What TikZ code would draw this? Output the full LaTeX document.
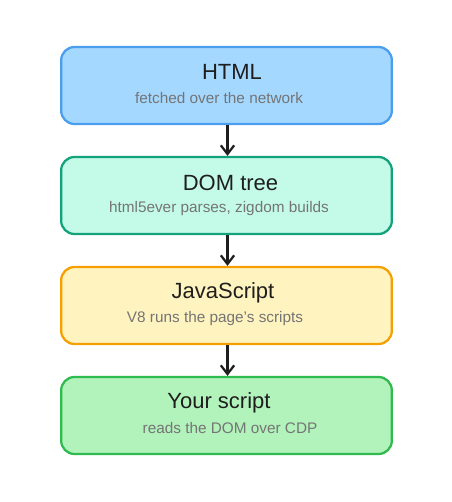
\documentclass[tikz,border=0pt]{standalone}
\usepackage{fontspec}
\setmainfont{Liberation Sans}
\usetikzlibrary{arrows.meta}

\definecolor{htmlfill}{HTML}{A5D8FF}
\definecolor{htmlline}{HTML}{4A9EED}
\definecolor{domfill}{HTML}{C3FAE8}
\definecolor{domline}{HTML}{12A37A}
\definecolor{jsfill}{HTML}{FFF3BF}
\definecolor{jsline}{HTML}{F59F00}
\definecolor{yourfill}{HTML}{B2F2BB}
\definecolor{yourline}{HTML}{2FBB4F}
\definecolor{inktext}{HTML}{1E1E1E}
\definecolor{subtext}{HTML}{757575}

\begin{document}
\begin{tikzpicture}[
x=0.75pt, y=-0.75pt,
stage/.style={draw, line width=1.7pt, rounded corners=10pt, minimum width=248pt, minimum height=57.75pt, inner sep=0pt},
title/.style={text=inktext, font=\fontsize{16.5}{18}\selectfont, inner sep=0pt},
subtitle/.style={text=subtext, font=\fontsize{11.5}{13}\selectfont, inner sep=0pt},
flow/.style={draw=inktext, line width=1.7pt, -{Straight Barb[length=6.5pt,width=10pt,line width=1.7pt]}}]

\useasboundingbox (0,0) rectangle (452,502);

% Boxes
\node[stage, fill=htmlfill, draw=htmlline] (html) at (226.5,85.5) {};
\node[stage, fill=domfill, draw=domline] (dom) at (226.5,195.5) {};
\node[stage, fill=jsfill, draw=jsline] (js) at (226.5,305.5) {};
\node[stage, fill=yourfill, draw=yourline] (yours) at (226.5,415.5) {};

% Labels
\node[title] (htmltitle) at (232,72) {HTML};
\node[subtitle] (htmlsub) at (219,98.5) {fetched over the network};
\node[title] (domtitle) at (230.5,182.5) {DOM tree};
\node[subtitle] (domsub) at (219,208.5) {html5ever parses, zigdom builds};
\node[title] (jstitle) at (223,292.5) {JavaScript};
\node[subtitle] (jssub) at (215,318.5) {V8 runs the page's scripts};
\node[title] (yourstitle) at (219,402.5) {Your script};
\node[subtitle] (yourssub) at (230,428.5) {reads the DOM over CDP};

% Arrows
\draw[flow] (html.south) ++(1,0) -- ([xshift=0.75pt]dom.north);
\draw[flow] (dom.south) ++(1,0) -- ([xshift=0.75pt]js.north);
\draw[flow] (js.south) ++(1,0) -- ([xshift=0.75pt]yours.north);

\end{tikzpicture}
\end{document}
